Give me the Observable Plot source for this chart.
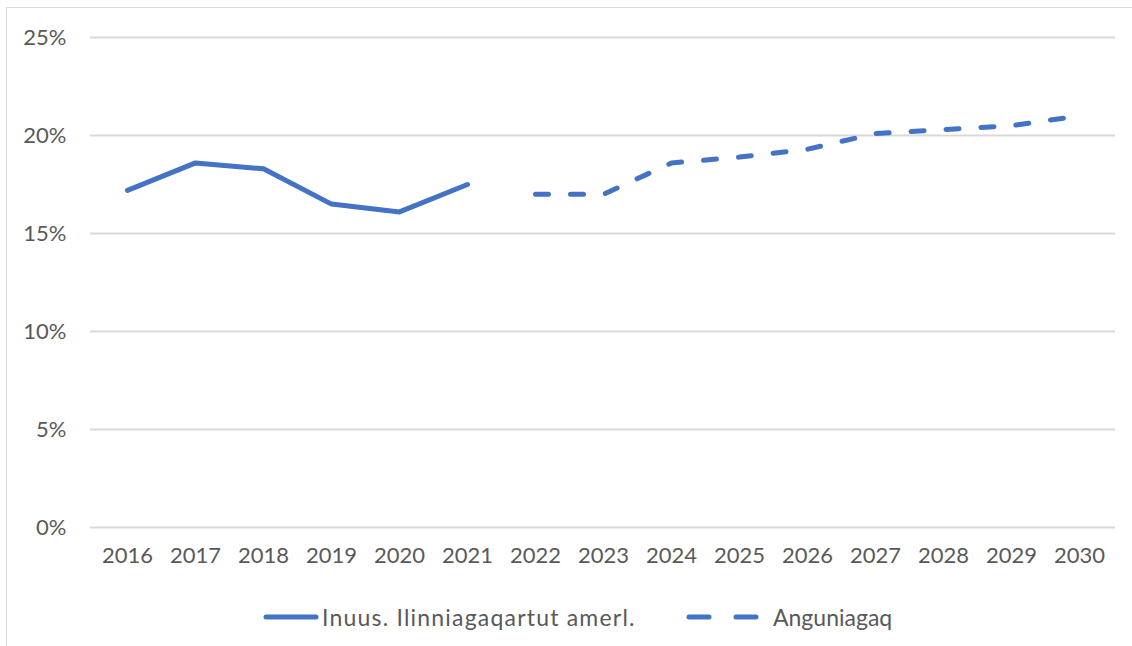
<!DOCTYPE html>
<html>
<head>
<meta charset="utf-8">
<script src="https://cdn.jsdelivr.net/npm/d3@7"></script>
<script src="https://cdn.jsdelivr.net/npm/@observablehq/plot@0.6"></script>
<style>
  html, body { margin: 0; padding: 0; background: #fff; }
  body { width: 1132px; height: 646px; position: relative; overflow: hidden; font-family: Lato, "Open Sans", sans-serif; }
  #frame { position: absolute; left: 6px; top: 7px; width: 1140px; height: 660px; border-left: 1.5px solid #d9d9d9; border-top: 1.5px solid #d9d9d9; box-sizing: border-box; pointer-events: none; }
  #chart { position: absolute; left: 0; top: 0; }
  #legend { position: absolute; top: 602px; left: 0; width: 1132px; height: 30px; color: #595959; }
  .item { position: absolute; top: 0; display: flex; align-items: center; height: 30px; white-space: nowrap; }
</style>
</head>
<body>
<div id="chart"></div>
<div id="frame"></div>
<div id="legend">
  <div class="item" style="left:263px"><svg width="56" height="10"><line x1="3" y1="5" x2="53" y2="5" stroke="#4472C4" stroke-width="5" stroke-linecap="round"/></svg><span style="margin-left:3px;font-size:23px;letter-spacing:1.2px">Inuus. Ilinniagaqartut amerl.</span></div>
  <div class="item" style="left:686px"><svg width="74" height="10"><line x1="3" y1="5" x2="71" y2="5" stroke="#4472C4" stroke-width="5" stroke-linecap="round" stroke-dasharray="20 27"/></svg><span style="margin-left:13px;font-size:23px">Anguniagaq</span></div>
</div>
<script>
const years = ["2016","2017","2018","2019","2020","2021","2022","2023","2024","2025","2026","2027","2028","2029","2030"];
const actualYears = ["2016","2017","2018","2019","2020","2021"];
const actualValues = [0.172, 0.186, 0.183, 0.165, 0.161, 0.175];
const targetYears = ["2022","2023","2024","2025","2026","2027","2028","2029","2030"];
const targetValues = [0.170, 0.170, 0.186, 0.189, 0.193, 0.201, 0.203, 0.205, 0.210];
const yTicks = [0, 0.05, 0.10, 0.15, 0.20, 0.25];

const actual = actualYears.map((y, i) => ({year: y, value: actualValues[i]}));
const target = targetYears.map((y, i) => ({year: y, value: targetValues[i]}));

const color = "#4472C4";
const chart = Plot.plot({
  width: 1132,
  height: 575,
  marginTop: 37,
  marginBottom: 48,
  marginLeft: 90,
  marginRight: 17,
  style: {fontFamily: "Lato, 'Open Sans', sans-serif", fontSize: "22px", color: "#595959", background: "transparent"},
  x: {type: "point", domain: years, padding: 0.5, label: null},
  y: {domain: [0, 0.25], label: null},
  marks: [
    Plot.gridY(yTicks, {stroke: "#d9d9d9", strokeOpacity: 1, strokeWidth: 2}),
    Plot.axisY(yTicks, {tickSize: 0, tickPadding: 24, tickFormat: d => Math.round(d * 100) + "%", label: null, fill: "#595959"}),
    Plot.axisX({tickSize: 0, tickPadding: 20, label: null, fill: "#595959"}),
    Plot.line(actual, {x: "year", y: "value", stroke: color, strokeWidth: 5, strokeLinecap: "round", strokeLinejoin: "round"}),
    Plot.line(target, {x: "year", y: "value", stroke: color, strokeWidth: 5, strokeLinecap: "round", strokeLinejoin: "round", strokeDasharray: "13 22"})
  ]
});
document.getElementById("chart").appendChild(chart);
</script>
</body>
</html>
